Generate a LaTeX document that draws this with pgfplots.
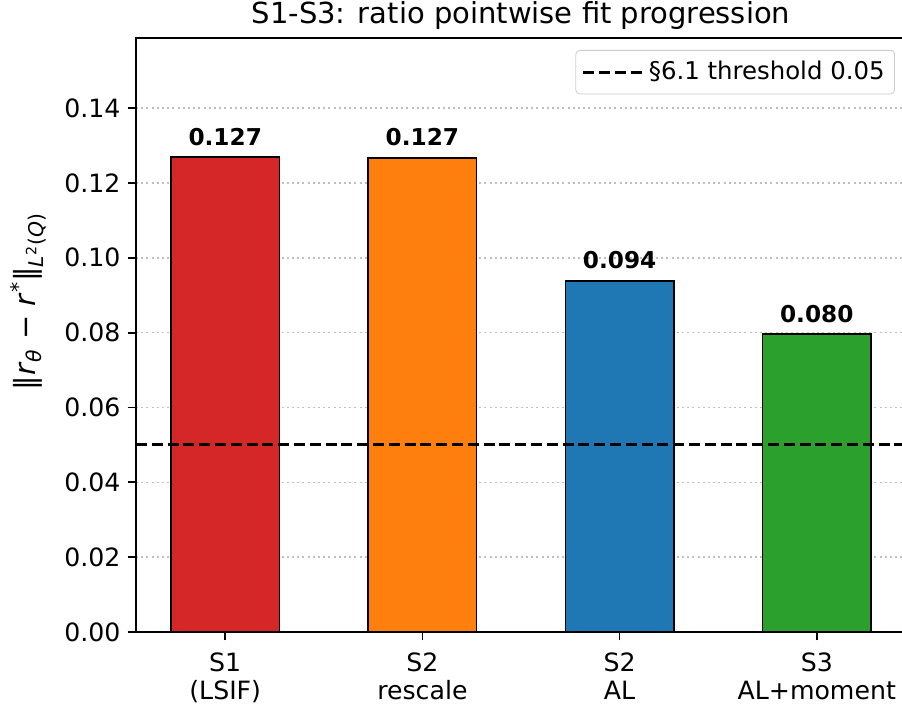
\documentclass[border=0pt]{standalone}
\usepackage{pgfplots}
\pgfplotsset{compat=1.18}
\usepackage{fontspec}
\setmainfont{DejaVu Sans}
\definecolor{tabred}{HTML}{D62728}
\definecolor{taborange}{HTML}{FF7F0E}
\definecolor{tabblue}{HTML}{1F77B4}
\definecolor{tabgreen}{HTML}{2CA02C}
\begin{document}
\begin{tikzpicture}
\begin{axis}[
  at={(0,0)}, anchor=south west,
  scale only axis, width=385pt, height=297pt,
  xmin=-0.4525, xmax=3.4525, ymin=0, ymax=0.15875,
  xtick={0,1,2,3},
  xticklabels={{S1\\(LSIF)},{S2\\rescale},{S2\\AL},{S3\\AL+moment}},
  xticklabel style={align=center, font=\fontsize{12.6}{14}\selectfont, yshift=-2.5pt},
  ytick={0,0.02,0.04,0.06,0.08,0.10,0.12,0.14},
  yticklabel style={font=\fontsize{12.6}{15}\selectfont, /pgf/number format/.cd, fixed, fixed zerofill, precision=2, assume math mode=true},
  tick align=outside, tick pos=left, major tick length=4.2pt,
  major tick style={line width=0.9pt, black},
  ymajorgrids, major grid style={black!25, line width=0.8pt, dash pattern=on 1pt off 1.6pt},
  axis line style={line width=1pt},
  title={S1-S3: ratio pointwise fit progression},
  title style={font=\fontsize{14.5}{17}\selectfont, yshift=-5.5pt},
  ylabel={‖\textit{r}\textsubscript{\textit{θ}} − \textit{r}\textsuperscript{*}‖\textsubscript{\textit{L}\textsuperscript{2}(\textit{Q})}},
  ylabel style={at={(axis description cs:-0.14,0.556)}, anchor=center, font=\fontsize{14.5}{17}\selectfont},
  legend style={at={(1,1)}, anchor=north east, xshift=-5.5pt, yshift=-6pt, draw=black!20, rounded corners=2pt, fill=white, font=\fontsize{12.2}{14}\selectfont, inner xsep=3pt, inner ysep=3.5pt},
  legend image code/.code={\draw[#1] (0pt,0pt) -- (22pt,0pt); \path (0pt,0pt) -- (30pt,0pt);},
  every node near coord/.append style={font=\bfseries\fontsize{11.6}{13}\selectfont, inner sep=0pt, yshift=5.5pt},
]
\addplot[ybar, bar width=0.55, bar shift=0pt, fill=tabred, draw=black, line width=0.8pt, forget plot, point meta=explicit symbolic, nodes near coords] coordinates {(0,0.1269) [0.127]};
\addplot[ybar, bar width=0.55, bar shift=0pt, fill=taborange, draw=black, line width=0.8pt, forget plot, point meta=explicit symbolic, nodes near coords] coordinates {(1,0.1267) [0.127]};
\addplot[ybar, bar width=0.55, bar shift=0pt, fill=tabblue, draw=black, line width=0.8pt, forget plot, point meta=explicit symbolic, nodes near coords] coordinates {(2,0.0938) [0.094]};
\addplot[ybar, bar width=0.55, bar shift=0pt, fill=tabgreen, draw=black, line width=0.8pt, forget plot, point meta=explicit symbolic, nodes near coords] coordinates {(3,0.0796) [0.080]};
\addplot[black, line width=1.5pt, dash pattern=on 5.5pt off 2.4pt] coordinates {(-0.4525,0.05) (3.4525,0.05)};
\addlegendentry{\S6.1 threshold 0.05}
\end{axis}
\pgfresetboundingbox
\path[use as bounding box] (-68pt,-40pt) rectangle (383pt,316pt);
\end{tikzpicture}
\end{document}
